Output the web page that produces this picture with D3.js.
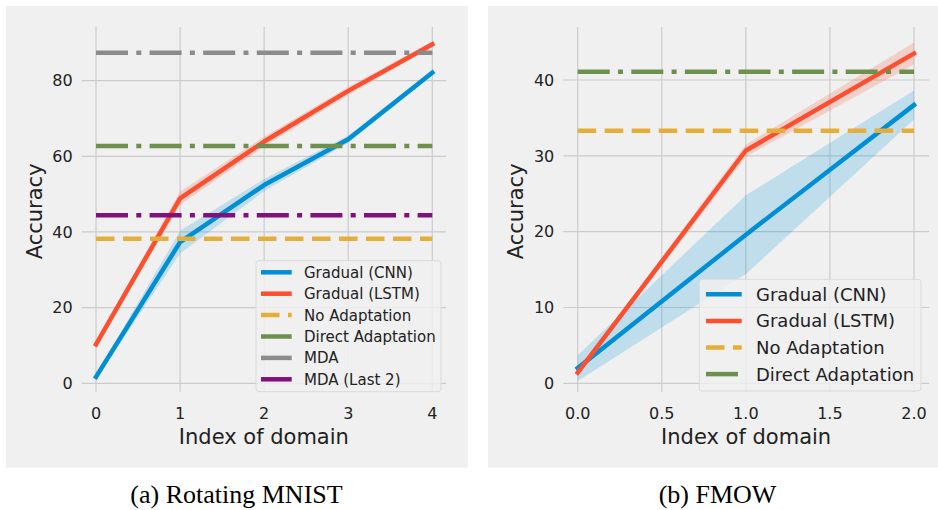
<!DOCTYPE html>
<html><head><meta charset="utf-8">
<script src="https://cdn.jsdelivr.net/npm/d3@7"></script>
<style>html,body{margin:0;padding:0;background:#fff;} svg{display:block;}</style>
</head><body>
<svg id="chart" width="938" height="510"></svg>
<script>
// ---------- data: (a) Rotating MNIST ----------
const mnistDomains = [0, 1, 2, 3, 4];
const mnistCNN = [1.7, 37.3, 52.4, 64.5, 82.1];
const mnistCNNStd = [0.6, 3.0, 1.6, 1.0, 0.7];
const mnistLSTM = [10.3, 48.9, 63.9, 77.3, 89.6];
const mnistLSTMStd = [0.6, 1.8, 1.3, 1.0, 0.8];
const mnistNoAdaptation = 38.2;
const mnistDirectAdaptation = 62.7;
const mnistMDA = 87.4;
const mnistMDALast2 = 44.4;
const mnistXTicks = [0, 1, 2, 3, 4];
const mnistYTicks = [0, 20, 40, 60, 80];

// ---------- data: (b) FMOW ----------
const fmowDomains = [0, 1, 2];
const fmowCNN = [2.0, 19.6, 36.7];
const fmowCNNStd = [1.7, 5.2, 1.9];
const fmowLSTM = [1.4, 30.7, 43.5];
const fmowLSTMStd = [0.3, 0.8, 1.45];
const fmowNoAdaptation = 33.3;
const fmowDirectAdaptation = 41.1;
const fmowXTicks = [0, 0.5, 1.0, 1.5, 2.0];
const fmowYTicks = [0, 10, 20, 30, 40];

const captions = ["(a) Rotating MNIST", "(b) FMOW"];

// ---------- style ----------
const C = {blue:"#008fd5", red:"#fc4f30", yellow:"#e5ae38", green:"#6d904f", gray:"#8b8b8b", purple:"#810f7c"};
const DASH = "18.5,8.5";
const DASHDOT = "32,8.3,5,8.3";
const FONT = "'DejaVu Sans', sans-serif";
const LW = 4.5;

const svg = d3.select("#chart");

const panels = [
  {
    bg: [6, 6, 461.7, 461.7],
    axes: {x0: 81.7, x1: 446, y0: 27, y1: 391.7},
    x: d3.scaleLinear().domain([0, 4]).range([96, 432.3]),
    y: d3.scaleLinear().domain([0, 60]).range([383.3, 156.3]),
    domains: mnistDomains, xTicks: mnistXTicks, yTicks: mnistYTicks, xFmt: d3.format("d"),
    bands: [
      {v: mnistCNN, s: mnistCNNStd, color: C.blue},
      {v: mnistLSTM, s: mnistLSTMStd, color: C.red}
    ],
    hlines: [
      {v: mnistNoAdaptation, color: C.yellow, dash: DASH},
      {v: mnistDirectAdaptation, color: C.green, dash: DASHDOT},
      {v: mnistMDA, color: C.gray, dash: DASHDOT},
      {v: mnistMDALast2, color: C.purple, dash: DASHDOT}
    ],
    legend: {
      box: [256, 260.7, 185, 131], lineX: [261, 291.7], textX: 304, rowY: 272.3, rowH: 21.4, font: 15,
      items: [
        {name: "Gradual (CNN)", color: C.blue, dash: null},
        {name: "Gradual (LSTM)", color: C.red, dash: null},
        {name: "No Adaptation", color: C.yellow, dash: DASH},
        {name: "Direct Adaptation", color: C.green, dash: DASHDOT},
        {name: "MDA", color: C.gray, dash: DASHDOT},
        {name: "MDA (Last 2)", color: C.purple, dash: DASHDOT}
      ]
    },
    ylabelX: 41.5, caption: captions[0], captionX: 236.5
  },
  {
    bg: [488, 6, 450, 461.7],
    axes: {x0: 563.3, x1: 929, y0: 27, y1: 391.7},
    x: d3.scaleLinear().domain([0, 2]).range([577.7, 914]),
    y: d3.scaleLinear().domain([0, 40]).range([383.3, 80]),
    domains: fmowDomains, xTicks: fmowXTicks, yTicks: fmowYTicks, xFmt: d3.format(".1f"),
    bands: [
      {v: fmowCNN, s: fmowCNNStd, color: C.blue},
      {v: fmowLSTM, s: fmowLSTMStd, color: C.red}
    ],
    hlines: [
      {v: fmowNoAdaptation, color: C.yellow, dash: DASH},
      {v: fmowDirectAdaptation, color: C.green, dash: DASHDOT}
    ],
    legend: {
      box: [699.3, 279.3, 221.7, 111.7], lineX: [706, 741.7], textX: 756, rowY: 294.3, rowH: 26.6, font: 18,
      items: [
        {name: "Gradual (CNN)", color: C.blue, dash: null},
        {name: "Gradual (LSTM)", color: C.red, dash: null},
        {name: "No Adaptation", color: C.yellow, dash: DASH},
        {name: "Direct Adaptation", color: C.green, dash: DASHDOT}
      ]
    },
    ylabelX: 523, caption: captions[1], captionX: 717.5
  }
];

panels.forEach((p, pi) => {
  const g = svg.append("g");
  const a = p.axes;
  // background
  g.append("rect").attr("x", p.bg[0]).attr("y", p.bg[1]).attr("width", p.bg[2]).attr("height", p.bg[3]).attr("fill", "#f0f0f0");

  // grid
  g.selectAll(".vg").data(p.xTicks).join("line")
    .attr("x1", d => p.x(d)).attr("x2", d => p.x(d)).attr("y1", a.y0).attr("y2", a.y1)
    .attr("stroke", "#cbcbcb").attr("stroke-width", 1.2);
  g.selectAll(".hg").data(p.yTicks).join("line")
    .attr("y1", d => p.y(d)).attr("y2", d => p.y(d)).attr("x1", a.x0).attr("x2", a.x1)
    .attr("stroke", "#cbcbcb").attr("stroke-width", 1.2);

  // tick labels
  g.selectAll(".xt").data(p.xTicks).join("text")
    .attr("x", d => p.x(d)).attr("y", 418.6).attr("text-anchor", "middle")
    .attr("font-family", FONT).attr("font-size", 16).attr("fill", "#222").text(d => p.xFmt(d));
  g.selectAll(".yt").data(p.yTicks).join("text")
    .attr("x", a.x0 - 9).attr("y", d => p.y(d)).attr("dy", "0.36em").attr("text-anchor", "end")
    .attr("font-family", FONT).attr("font-size", 16).attr("fill", "#222").text(d => d);

  // axis labels
  g.append("text").attr("x", (a.x0 + a.x1) / 2).attr("y", 444).attr("text-anchor", "middle")
    .attr("font-family", FONT).attr("font-size", 21).attr("fill", "#222").text("Index of domain");
  g.append("text").attr("transform", `translate(${p.ylabelX},${(a.y0 + a.y1) / 2 + 2}) rotate(-90)`)
    .attr("text-anchor", "middle").attr("font-family", FONT).attr("font-size", 21).attr("fill", "#222").text("Accuracy");

  // bands
  p.bands.forEach(b => {
    const data = p.domains.map((d, i) => ({x: d, v: b.v[i], s: b.s[i]}));
    g.append("path").datum(data)
      .attr("d", d3.area().x(d => p.x(d.x)).y0(d => p.y(d.v - d.s)).y1(d => p.y(d.v + d.s)))
      .attr("fill", b.color).attr("fill-opacity", 0.2);
  });
  // lines
  p.bands.forEach(b => {
    const data = p.domains.map((d, i) => ({x: d, v: b.v[i]}));
    g.append("path").datum(data)
      .attr("d", d3.line().x(d => p.x(d.x)).y(d => p.y(d.v)))
      .attr("fill", "none").attr("stroke", b.color).attr("stroke-width", LW)
      .attr("stroke-linejoin", "round").attr("stroke-linecap", "square");
  });
  const ext = d3.extent(p.domains);
  p.hlines.forEach(h => {
    g.append("path").datum(ext.map(d => ({x: d, v: h.v})))
      .attr("d", d3.line().x(d => p.x(d.x)).y(d => p.y(d.v)))
      .attr("fill", "none").attr("stroke", h.color).attr("stroke-width", LW)
      .attr("stroke-dasharray", h.dash);
  });

  // legend
  const L = p.legend;
  g.append("rect").attr("x", L.box[0]).attr("y", L.box[1]).attr("width", L.box[2]).attr("height", L.box[3])
    .attr("rx", 3).attr("fill", "#f0f0f0").attr("fill-opacity", 0.85)
    .attr("stroke", "#dadada").attr("stroke-width", 1);
  L.items.forEach((it, i) => {
    const yy = L.rowY + i * L.rowH;
    g.append("line").attr("x1", L.lineX[0]).attr("x2", L.lineX[1]).attr("y1", yy).attr("y2", yy)
      .attr("stroke", it.color).attr("stroke-width", LW).attr("stroke-dasharray", it.dash);
    g.append("text").attr("x", L.textX).attr("y", yy).attr("dy", "0.36em")
      .attr("font-family", FONT).attr("font-size", L.font).attr("fill", "#222").text(it.name);
  });

  // caption
  svg.append("text").attr("x", p.captionX).attr("y", 502.5).attr("text-anchor", "middle")
    .attr("font-family", "'Liberation Serif', 'Times New Roman', serif").attr("font-size", 26)
    .attr("fill", "#000").text(p.caption);
});
</script>
</body></html>
